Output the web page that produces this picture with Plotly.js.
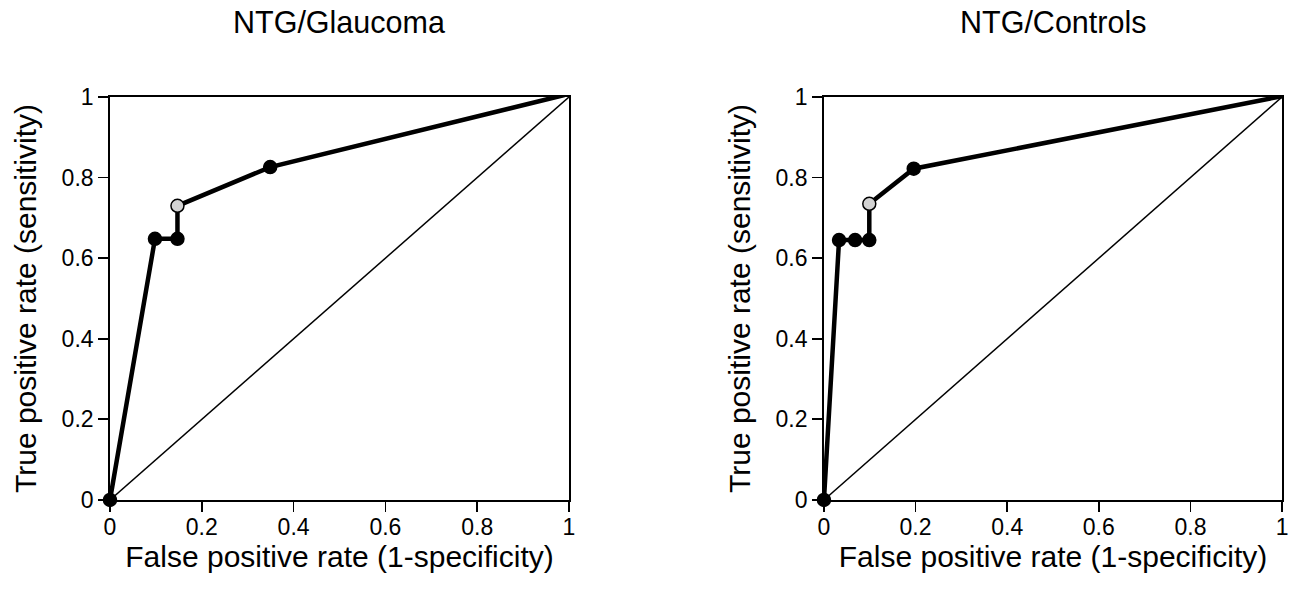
<!DOCTYPE html>
<html>
<head>
<meta charset="utf-8">
<script src="https://cdn.plot.ly/plotly-3.0.1.min.js"></script>
<style>html,body{margin:0;padding:0;background:#fff;}#chart{width:1300px;height:598px;}</style>
</head>
<body>
<div id="chart"></div>
<script>
// NTG/Glaucoma ROC
const glaucomaFPR = [0, 0.098, 0.147, 0.147, 0.349, 0.99];
const glaucomaTPR = [0, 0.648, 0.648, 0.73, 0.826, 1.005];
const glaucomaFill = ['black', 'black', 'black', '#d3d3d3', 'black', 'black'];
// NTG/Controls ROC
const controlsFPR = [0, 0.033, 0.068, 0.099, 0.099, 0.196, 1];
const controlsTPR = [0, 0.645, 0.645, 0.645, 0.735, 0.822, 1.002];
const controlsFill = ['black', 'black', 'black', 'black', '#d3d3d3', 'black', 'black'];
const diagonal = [0, 1];
const tickVals = [0, 0.2, 0.4, 0.6, 0.8, 1];
const tickText = ['0', '0.2', '0.4', '0.6', '0.8', '1'];
const titles = ['NTG/Glaucoma', 'NTG/Controls'];
const xTitle = 'False positive rate (1-specificity)';
const yTitle = 'True positive rate (sensitivity)';

const font = 'Liberation Sans, Arial, sans-serif';
function diag(xa, ya) {
  return {x: diagonal, y: diagonal, xaxis: xa, yaxis: ya, mode: 'lines',
    line: {color: 'black', width: 1.5}, hoverinfo: 'skip', showlegend: false, cliponaxis: false};
}
function roc(x, y, fill, xa, ya) {
  return {x: x, y: y, xaxis: xa, yaxis: ya, mode: 'lines+markers',
    line: {color: 'black', width: 4.5},
    marker: {size: 13, color: fill, line: {color: 'black', width: 1.5}},
    showlegend: false, cliponaxis: false};
}
const traces = [
  diag('x', 'y'), roc(glaucomaFPR, glaucomaTPR, glaucomaFill, 'x', 'y'),
  diag('x2', 'y2'), roc(controlsFPR, controlsTPR, controlsFill, 'x2', 'y2')
];
function xaxis(domain, anchor) {
  return {domain: domain, anchor: anchor, range: [0, 1], tickvals: tickVals, ticktext: tickText,
    ticks: 'outside', ticklen: 10, tickwidth: 1.8, tickcolor: 'black', ticklabelstandoff: -4,
    showline: true, linecolor: 'black', linewidth: 1.8, mirror: true,
    showgrid: false, zeroline: false, tickfont: {family: font, size: 23, color: 'black'},
    title: {text: xTitle, font: {family: font, size: 30, color: 'black'}, standoff: 4}};
}
function yaxis(domain, anchor) {
  return {domain: domain, anchor: anchor, range: [0, 1], tickvals: tickVals, ticktext: tickText,
    ticks: 'outside', ticklen: 10, tickwidth: 1.8, tickcolor: 'black',
    showline: true, linecolor: 'black', linewidth: 1.8, mirror: true,
    showgrid: false, zeroline: false, tickfont: {family: font, size: 23, color: 'black'},
    title: {text: yTitle, font: {family: font, size: 30, color: 'black'}, standoff: 16}};
}
const yDom = [0.1639, 0.8378];
const layout = {
  width: 1300, height: 598, margin: {l: 0, r: 0, t: 0, b: 0},
  paper_bgcolor: 'white', plot_bgcolor: 'white',
  xaxis: xaxis([0.0846, 0.4377], 'y'),
  yaxis: yaxis(yDom, 'x'),
  xaxis2: xaxis([0.6338, 0.9862], 'y2'),
  yaxis2: yaxis(yDom, 'x2'),
  annotations: [
    {text: titles[0], x: 0.261, y: 0.963, xref: 'paper', yref: 'paper', showarrow: false,
      xanchor: 'center', yanchor: 'middle', font: {family: font, size: 30.5, color: 'black'}},
    {text: titles[1], x: 0.81, y: 0.963, xref: 'paper', yref: 'paper', showarrow: false,
      xanchor: 'center', yanchor: 'middle', font: {family: font, size: 30.5, color: 'black'}}
  ]
};
Plotly.newPlot('chart', traces, layout, {displayModeBar: false, staticPlot: true});
</script>
</body>
</html>
